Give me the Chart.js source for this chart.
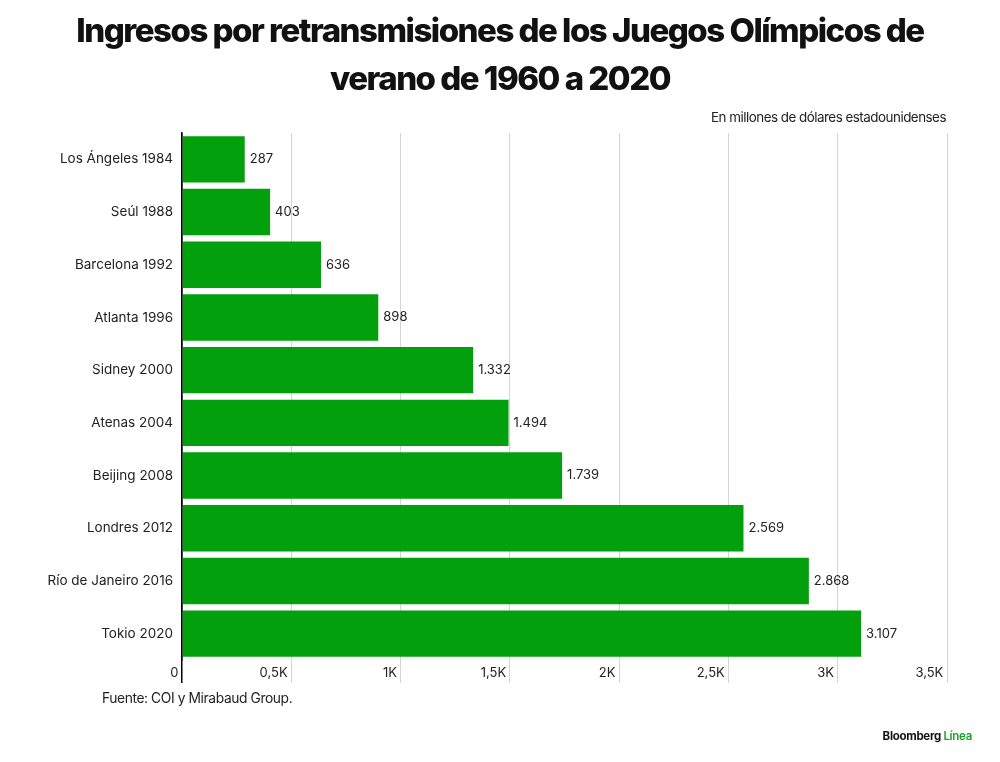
<!DOCTYPE html>
<html>
<head>
<meta charset="utf-8">
<script src="https://cdn.jsdelivr.net/npm/chart.js@4.4.1/dist/chart.umd.min.js"></script>
<style>
  html, body { margin: 0; padding: 0; background: #fff; }
  #wrap { position: relative; width: 1000px; height: 762px; font-family: Inter, 'Noto Sans', sans-serif; color: #111; }
  #title { position: absolute; top: 6px; left: 0; width: 1000px; text-align: center; font-weight: 800; font-size: 33px; line-height: 48px; letter-spacing: -1.5px; }
  #unit { position: absolute; top: 109px; right: 54px; font-size: 13.4px; letter-spacing: -0.5px; color: #222; white-space: nowrap; }
  #source { position: absolute; top: 690px; left: 102px; font-size: 13.8px; letter-spacing: -0.4px; color: #222; }
  #logo { position: absolute; top: 729px; right: 28px; font-size: 11.5px; font-weight: 700; letter-spacing: -0.3px; color: #111; }
  #logo span { color: #1aa322; font-weight: 600; }
  #myChart { position: absolute; top: 0; left: 0; }
</style>
</head>
<body>
<div id="wrap">
  <canvas id="myChart" width="1000" height="762"></canvas>
  <div id="title">Ingresos por retransmisiones de los Juegos Olímpicos de<br>verano de 1960 a 2020</div>
  <div id="unit">En millones de dólares estadounidenses</div>
  <div id="source">Fuente: COI y Mirabaud Group.</div>
  <div id="logo">Bloomberg <span>Línea</span></div>
</div>
<script>
const labels = ['Los Ángeles 1984', 'Seúl 1988', 'Barcelona 1992', 'Atlanta 1996', 'Sidney 2000',
    'Atenas 2004', 'Beijing 2008', 'Londres 2012', 'Río de Janeiro 2016', 'Tokio 2020'];
const revenue = [287, 403, 636, 898, 1332, 1494, 1739, 2569, 2868, 3107];
const tickLabels = ['0', '0,5K', '1K', '1,5K', '2K', '2,5K', '3K', '3,5K'];

// values written like 1.332
function fmt(v) {
    return String(v).replace(/\B(?=(\d{3})+(?!\d))/g, '.');
}

const valueLabels = {
    id: 'valueLabels',
    afterDatasetsDraw(chart) {
        const c = chart.ctx;
        const meta = chart.getDatasetMeta(0);
        c.save();
        c.font = '13px Inter, "Noto Sans", sans-serif';
        c.fillStyle = '#222';
        c.textAlign = 'left';
        c.textBaseline = 'middle';
        meta.data.forEach((bar, i) => {
            c.fillText(fmt(revenue[i]), bar.x + 5, bar.y);
        });
        c.restore();
    }
};

let ctx = document.getElementById('myChart').getContext('2d');
var myChart = new Chart(ctx, {         //eslint-disable-line
    type: 'bar',
    data: {
        labels: labels,
        datasets: [{
            label: 'Ingresos',
            data: revenue,
            backgroundColor: '#03a00d',
            borderWidth: 0,
            barPercentage: 0.88,
            categoryPercentage: 1
        }]
    },
    options: {
        indexAxis: 'y',
        responsive: false,
        animation: false,
        layout: { padding: { top: 133, right: 53, bottom: 79, left: 0 } },
        plugins: {
            legend: { display: false },
            tooltip: { enabled: false }
        },
        scales: {
            x: {
                min: 0,
                max: 3500,
                border: { display: false },
                grid: {
                    color: (c) => (c.tick && c.tick.value === 0 ? '#000' : '#d4d4d4'),
                    lineWidth: (c) => (c.tick && c.tick.value === 0 ? 1.5 : 1),
                    tickLength: 23
                },
                ticks: {
                    stepSize: 500,
                    align: 'end',
                    padding: -18,
                    color: '#222',
                    font: { family: 'Inter, "Noto Sans", sans-serif', size: 13 },
                    callback: (v, i) => tickLabels[i] + ' '
                },
                afterFit: (scale) => { scale.height = 23; }
            },
            y: {
                border: { display: true, color: '#000', width: 1.5 },
                grid: { display: false, drawTicks: false },
                ticks: {
                    padding: 9,
                    color: '#222',
                    font: { family: 'Inter, "Noto Sans", sans-serif', size: 13.5 }
                },
                afterFit: (scale) => { scale.width = 182; }
            }
        }
    },
    plugins: [valueLabels]
});
</script>
</body>
</html>
